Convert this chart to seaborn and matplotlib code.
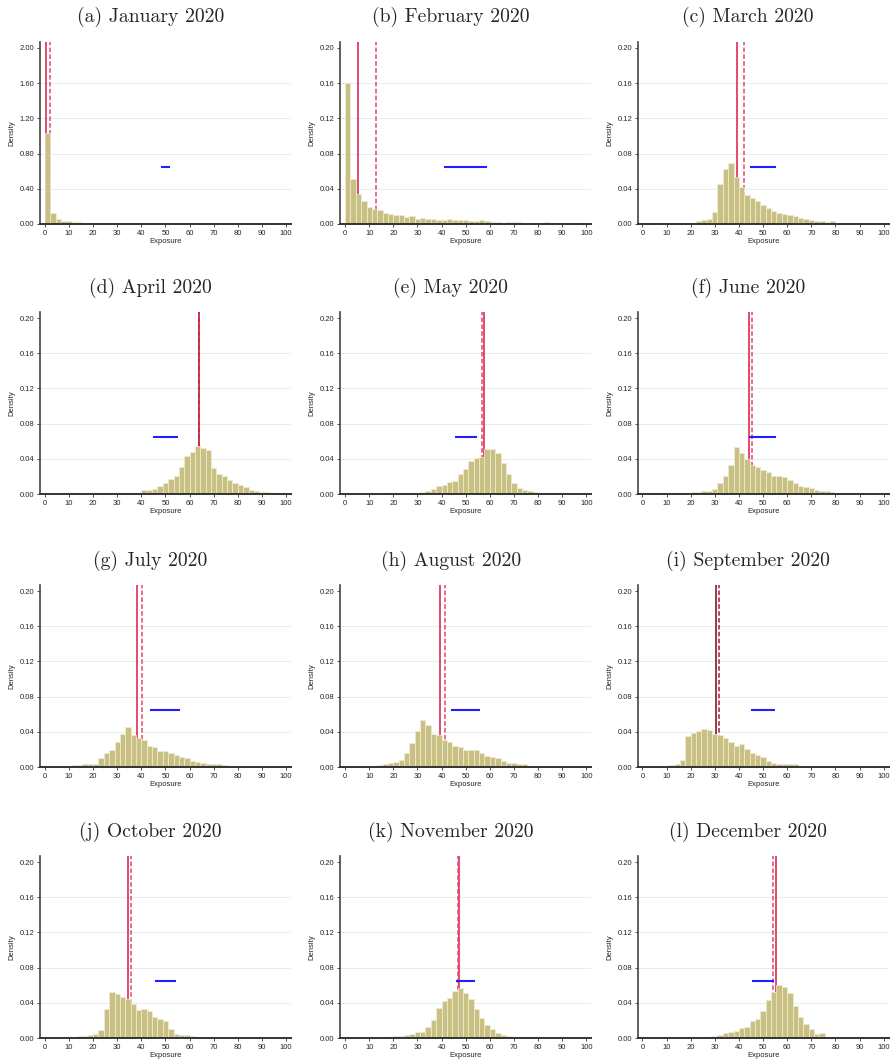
import numpy as np
import pandas as pd
import matplotlib
matplotlib.use("Agg")
import matplotlib.pyplot as plt
import seaborn as sns
from matplotlib.ticker import FormatStrFormatter

sns.set_theme(style="white")
plt.rcParams['font.family'] = ['Liberation Sans', 'DejaVu Sans']

# ---------------- data ----------------
titles = ["(a) January 2020", "(b) February 2020", "(c) March 2020",
          "(d) April 2020", "(e) May 2020", "(f) June 2020",
          "(g) July 2020", "(h) August 2020", "(i) September 2020",
          "(j) October 2020", "(k) November 2020", "(l) December 2020"]

n_bins = 45
bin_range = (0, 100)

def pad(vals, fill=0.0003):
    vals = list(vals)
    return vals + [fill] * (n_bins - len(vals))

jan = pad([1.03, 0.12, 0.057, 0.038, 0.03, 0.022, 0.018, 0.012, 0.006, 0.004,
           0.003, 0.002, 0.002, 0.001], 0.0005)
feb = pad([0.160, 0.051, 0.034, 0.026, 0.019, 0.017, 0.016, 0.013, 0.011, 0.010,
           0.010, 0.008, 0.009, 0.006, 0.007, 0.006, 0.006, 0.005, 0.004, 0.006,
           0.005, 0.005, 0.004, 0.003, 0.003, 0.004, 0.003, 0.002, 0.002, 0.001,
           0.002, 0.002, 0.002, 0.001, 0.001, 0.001, 0.0005, 0.002])
mar = pad([0.0003, 0.0003, 0.0003, 0.0005, 0.0005, 0.0005, 0.0005, 0.0005, 0.0005, 0.001,
           0.003, 0.004, 0.006, 0.014, 0.046, 0.062, 0.069, 0.053, 0.042, 0.033,
           0.030, 0.026, 0.021, 0.018, 0.015, 0.013, 0.011, 0.010, 0.009, 0.007,
           0.006, 0.004, 0.003, 0.003, 0.002, 0.003])
apr = pad([0.0003, 0.0003, 0.0003, 0.0003, 0.001, 0.001, 0.001, 0.0005, 0.0005, 0.001,
           0.001, 0.001, 0.001, 0.001, 0.001, 0.001, 0.001, 0.001, 0.005, 0.005,
           0.006, 0.009, 0.012, 0.017, 0.020, 0.031, 0.043, 0.048, 0.055, 0.052,
           0.050, 0.030, 0.023, 0.021, 0.016, 0.013, 0.010, 0.008, 0.005, 0.003,
           0.002, 0.002, 0.001, 0.001, 0.0005])
may = pad([0.0003, 0.0003, 0.0003, 0.0003, 0.0005, 0.001, 0.0005, 0.001, 0.001, 0.001,
           0.001, 0.001, 0.001, 0.001, 0.002, 0.003, 0.006, 0.009, 0.010, 0.014,
           0.015, 0.023, 0.028, 0.037, 0.041, 0.042, 0.051, 0.051, 0.047, 0.035,
           0.023, 0.012, 0.007, 0.005, 0.003, 0.002, 0.001, 0.001, 0.001, 0.001,
           0.001, 0.0005, 0.0005, 0.0005, 0.0005])
jun = pad([0.001, 0.001, 0.001, 0.001, 0.001, 0.001, 0.001, 0.001, 0.001, 0.002,
           0.002, 0.003, 0.004, 0.006, 0.012, 0.020, 0.033, 0.054, 0.047, 0.040,
           0.033, 0.031, 0.027, 0.025, 0.020, 0.021, 0.019, 0.016, 0.012, 0.009,
           0.008, 0.007, 0.005, 0.004, 0.003, 0.002, 0.001, 0.001, 0.001, 0.001,
           0.001, 0.0005, 0.0005, 0.0005, 0.0005])
jul = pad([0.0005, 0.0005, 0.0005, 0.0005, 0.0005, 0.002, 0.002, 0.003, 0.003, 0.004,
           0.010, 0.016, 0.019, 0.029, 0.038, 0.045, 0.036, 0.033, 0.031, 0.024,
           0.023, 0.018, 0.018, 0.016, 0.014, 0.011, 0.010, 0.007, 0.006, 0.005,
           0.004, 0.004, 0.003, 0.002, 0.001], 0.0005)
aug = pad([0.0003, 0.0003, 0.0003, 0.0003, 0.001, 0.001, 0.002, 0.003, 0.005, 0.006,
           0.008, 0.016, 0.027, 0.041, 0.054, 0.048, 0.037, 0.036, 0.031, 0.029,
           0.024, 0.023, 0.019, 0.019, 0.019, 0.016, 0.012, 0.011, 0.010, 0.007,
           0.005, 0.005, 0.004, 0.004, 0.001], 0.0005)
sep = pad([0.0003, 0.0003, 0.0003, 0.0003, 0.001, 0.002, 0.003, 0.008, 0.035, 0.039,
           0.041, 0.043, 0.042, 0.038, 0.036, 0.033, 0.028, 0.024, 0.026, 0.021,
           0.016, 0.014, 0.011, 0.007, 0.005, 0.004, 0.004, 0.003, 0.003, 0.001], 0.0005)
oct_ = pad([0.0005, 0.0005, 0.0005, 0.0005, 0.0005, 0.0005, 0.002, 0.002, 0.004, 0.005,
            0.009, 0.033, 0.052, 0.050, 0.047, 0.044, 0.039, 0.032, 0.033, 0.031,
            0.024, 0.022, 0.019, 0.010, 0.005, 0.003, 0.003, 0.002, 0.001], 0.0005)
nov = pad([0.0005, 0.0005, 0.0005, 0.0005, 0.0005, 0.0005, 0.0005, 0.001, 0.001, 0.002,
           0.002, 0.003, 0.005, 0.007, 0.007, 0.013, 0.021, 0.034, 0.042, 0.046,
           0.054, 0.057, 0.051, 0.044, 0.033, 0.023, 0.015, 0.010, 0.006, 0.004,
           0.002, 0.001, 0.001, 0.001, 0.001], 0.0003)
dec = pad([0.0005, 0.0005, 0.0005, 0.0005, 0.0005, 0.0005, 0.0005, 0.0005, 0.0005, 0.0005,
           0.0005, 0.0005, 0.001, 0.002, 0.004, 0.006, 0.007, 0.008, 0.011, 0.013,
           0.019, 0.022, 0.031, 0.043, 0.052, 0.060, 0.058, 0.051, 0.036, 0.024,
           0.016, 0.010, 0.005, 0.006], 0.0003)

densities = [jan, feb, mar, apr, may, jun, jul, aug, sep, oct_, nov, dec]

# median (solid) and mean (dashed) lines
medians = [0.5, 5.2, 39.0, 64.0, 57.6, 44.0, 38.2, 39.2, 30.3, 34.5, 47.2, 55.4]
means = [2.2, 12.8, 42.2, 64.1, 56.9, 45.5, 40.2, 41.5, 31.9, 35.8, 46.8, 54.2]

# blue horizontal reference segment (start, end, level)
seg_start = [48, 41, 44.5, 45, 45.5, 44, 43.5, 44, 45, 45.5, 46, 45.5]
seg_end = [52, 59, 55.5, 55, 54.5, 55.5, 56, 56, 55, 54.5, 54, 54.5]
seg_level = [0.65, 0.065, 0.065, 0.065, 0.065, 0.065, 0.065, 0.065, 0.065, 0.065, 0.065, 0.065]

y_max = [2.07] + [0.207] * 11
y_step = [0.4] + [0.04] * 11

# ---------------- figure ----------------
fig = plt.figure(figsize=(8.93, 10.59), dpi=100)
col_left = [0.0448, 0.381, 0.714]
row_bottom = [0.7885, 0.5335, 0.2757, 0.0198]
ax_w, ax_h = 0.281, 0.172

bar_color = "#c9c084"
edge_color = "#efedd6"
solid_colors = ["#d81b45"] * 12
dashed_colors = ["#e2476e"] * 12
solid_colors[8] = "#6a0d1c"
dashed_colors[8] = "#b5122f"
solid_colors[3] = "#b0102c"
dashed_colors[3] = "#d81b45"

bw = (bin_range[1] - bin_range[0]) / n_bins
centers = bin_range[0] + bw * (np.arange(n_bins) + 0.5)

for i in range(12):
    r, c = divmod(i, 3)
    ax = fig.add_axes([col_left[c], row_bottom[r], ax_w, ax_h])
    ax.set_facecolor("white")
    ticks = np.round(np.arange(0, y_max[i] + 1e-9, y_step[i]), 4)
    for t in ticks[1:-1]:
        ax.axhline(t, color="#e6eeee", lw=0.8, zorder=0)
    ax.axvline(medians[i], color=solid_colors[i], lw=1.1, zorder=1)
    ax.axvline(means[i], color=dashed_colors[i], lw=1.1, ls=(0, (3, 1.5)), zorder=1.1)
    df = pd.DataFrame({"exposure": centers, "density": densities[i]})
    sns.histplot(data=df, x="exposure", weights="density", bins=n_bins,
                 binrange=bin_range, stat="count",
                 ax=ax, color=bar_color, alpha=1.0, edgecolor=edge_color,
                 linewidth=0.5, zorder=2)
    ax.hlines(seg_level[i], seg_start[i], seg_end[i], color="#1f1fff", lw=1.5, zorder=3)

    ax.set_xlim(-2, 102)
    ax.set_ylim(0, y_max[i])
    ax.set_xticks(np.arange(0, 101, 10))
    ax.set_yticks(ticks)
    ax.yaxis.set_major_formatter(FormatStrFormatter('%.2f'))
    ax.tick_params(axis='both', labelsize=5.5, length=2.5, width=0.6,
                   color="#333333", pad=1.5, direction='out', left=True, bottom=True)
    ax.set_xlabel("Exposure", fontsize=5.5, labelpad=1)
    ax.set_ylabel("Density", fontsize=5.5, labelpad=3)
    for s in ["top", "right"]:
        ax.spines[s].set_visible(False)
    ax.spines["left"].set_color("#444444")
    ax.spines["left"].set_linewidth(1.2)
    ax.spines["bottom"].set_color("#333333")
    ax.spines["bottom"].set_linewidth(1.4)
    ax.spines["bottom"].set_zorder(4)
    ax.set_title(titles[i], fontsize=14.2, family="cmr10", pad=14, x=0.44)

fig.savefig("out.png", dpi=100)
